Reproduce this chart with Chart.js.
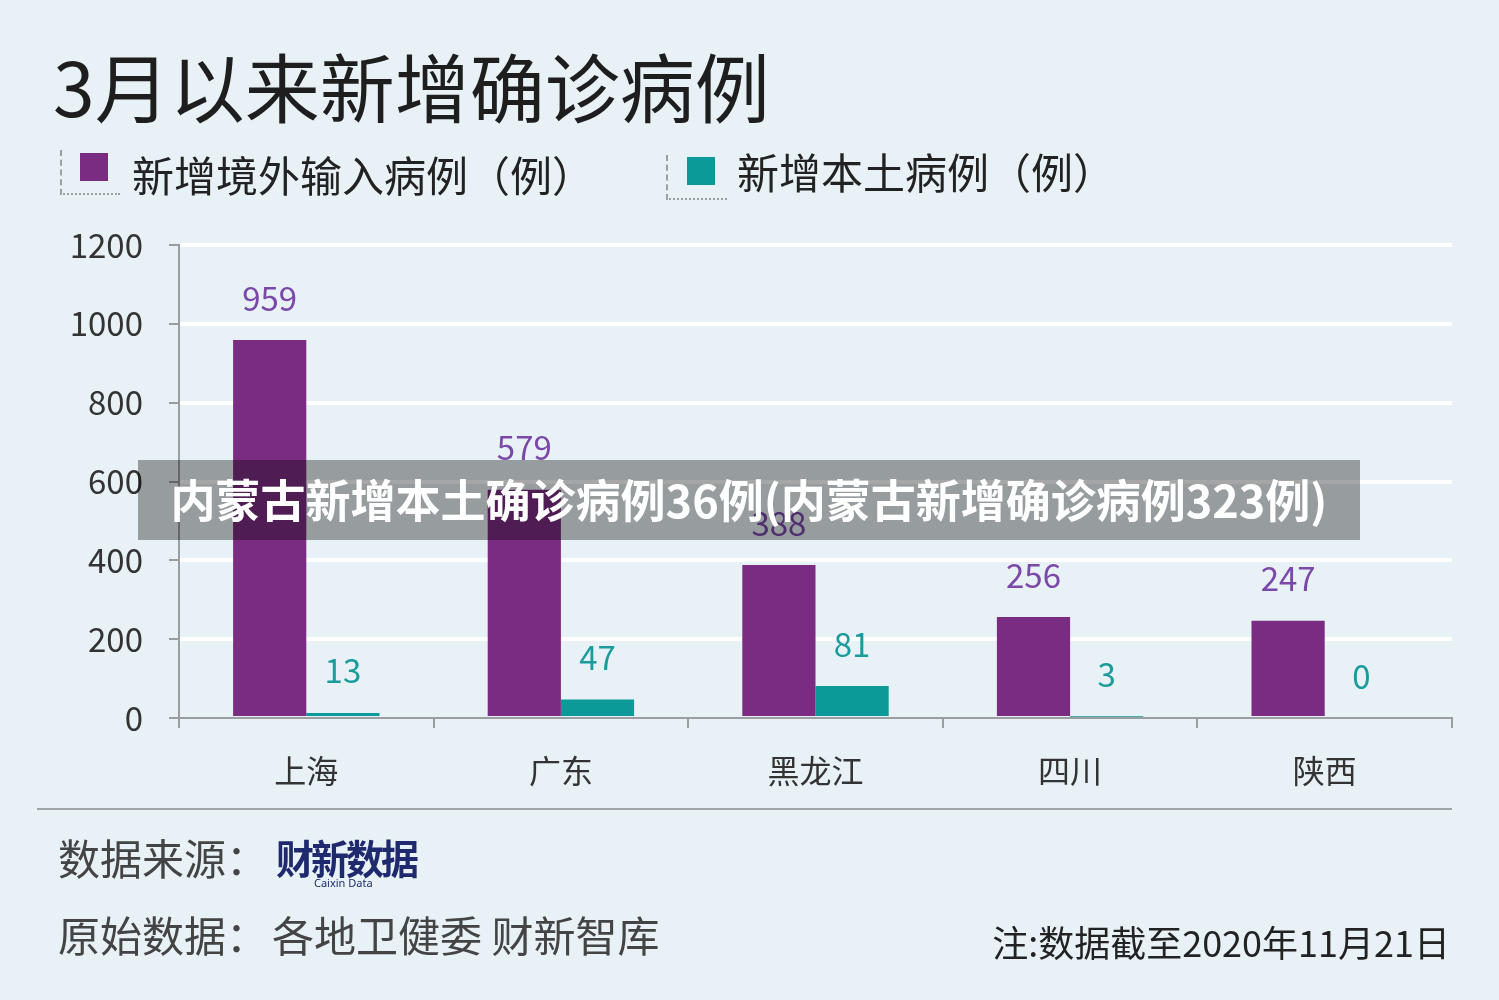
<!DOCTYPE html>
<html><head><meta charset="utf-8">
<script src="https://cdn.jsdelivr.net/npm/chart.js@4/dist/chart.umd.min.js"></script>
<style>
html,body{margin:0;padding:0;}
body{width:1499px;height:1000px;background:#e8f1f5;position:relative;overflow:hidden;font-family:"Noto Sans CJK SC","Noto Sans",sans-serif;color:#222;}
#c{position:absolute;left:0;top:0;}
.abs{position:absolute;white-space:nowrap;}
.title{left:53px;top:40px;font-size:75px;line-height:90px;color:#1e1e1e;}
.lg{font-size:42px;line-height:50px;color:#222;}
.sq{position:absolute;width:28px;height:28px;}
.dash{position:absolute;border-left:2px dashed #9aa0a4;border-bottom:2px dotted #9aa0a4;}
.sep{left:37px;top:808px;width:1415px;height:0;border-top:2px solid #a0a4a8;}
.foot{font-size:42px;line-height:50px;color:#444;}
.banner{left:138px;top:460px;width:1222px;height:80px;background:rgba(0,0,0,0.35);color:#fff;font-weight:bold;font-size:45px;line-height:78px;text-align:center;}
</style></head>
<body>
<canvas id="c" width="1499" height="1000"></canvas>
<div class="abs title">3月以来新增确诊病例</div>
<div class="dash" style="left:60px;top:150px;width:58px;height:43px;"></div>
<div class="sq" style="left:80px;top:153px;background:#7a2b82;"></div>
<div class="abs lg" style="left:132px;top:149px;">新增境外输入病例（例）</div>
<div class="dash" style="left:666px;top:155px;width:59px;height:43px;"></div>
<div class="sq" style="left:687px;top:157px;background:#0c9a98;"></div>
<div class="abs lg" style="left:737px;top:146px;">新增本土病例（例）</div>
<div class="abs sep"></div>
<div class="abs foot" style="left:58px;top:832px;">数据来源：</div>
<div class="abs" style="left:276px;top:834px;font-size:38px;font-weight:bold;color:#1f2a6e;line-height:46px;letter-spacing:-3px;transform:scaleY(1.05);">财新数据</div>
<div class="abs" style="left:314px;top:875px;font-size:11px;color:#1f2a6e;font-family:'Noto Sans',sans-serif;">Caixin Data</div>
<div class="abs foot" style="left:58px;top:909px;">原始数据：<span style="margin-left:4px">各地卫健委 财新智库</span></div>
<div class="abs" style="right:49px;top:917px;font-size:36px;line-height:48px;color:#222;">注:数据截至2020年11月21日</div>
<div class="abs banner">内蒙古新增本土确诊病例36例(内蒙古新增确诊病例323例)</div>
<script>
const categories = ["上海", "广东", "黑龙江", "四川", "陕西"];
const importedCases = [959, 579, 388, 256, 247];
const localCases = [13, 47, 81, 3, 0];
const seriesNames = ["新增境外输入病例（例）", "新增本土病例（例）"];
const yTicks = [0, 200, 400, 600, 800, 1000, 1200];

const valueLabels = {
  id: 'valueLabels',
  afterDatasetsDraw(chart) {
    const ctx = chart.ctx;
    const colors = ['#7a48a8', '#1a9c9c'];
    chart.data.datasets.forEach((ds, i) => {
      const meta = chart.getDatasetMeta(i);
      meta.data.forEach((bar, j) => {
        ctx.save();
        ctx.font = '33px "Noto Sans CJK SC", sans-serif';
        ctx.fillStyle = colors[i];
        ctx.textAlign = 'center';
        ctx.textBaseline = 'middle';
        ctx.fillText(String(ds.data[j]), bar.x, bar.y - 42);
        ctx.restore();
      });
    });
  }
};

new Chart(document.getElementById('c'), {
  type: 'bar',
  data: {
    labels: categories,
    datasets: [
      { label: seriesNames[0], data: importedCases, backgroundColor: '#7a2b82' },
      { label: seriesNames[1], data: localCases, backgroundColor: '#0c9a98' }
    ]
  },
  options: {
    responsive: false,
    animation: false,
    devicePixelRatio: 1,
    layout: { padding: { top: 245, right: 47, left: 0, bottom: 0 } },
    plugins: { legend: { display: false }, tooltip: { enabled: false } },
    datasets: { bar: { categoryPercentage: 0.575, barPercentage: 1.0 } },
    scales: {
      x: {
        afterFit(s) { s.height = 282; },
        grid: { drawOnChartArea: false, tickLength: 10, tickColor: '#9a9ea2', lineWidth: 2, offset: true },
        border: { color: '#9a9ea2', width: 2 },
        ticks: { color: '#333', padding: 24, font: { size: 32, family: '"Noto Sans CJK SC", sans-serif' } }
      },
      y: {
        min: 0, max: 1200,
        afterFit(s) { s.width = 179; },
        afterBuildTicks(s) { s.ticks = yTicks.map(v => ({ value: v })); },
        grid: {
          color: (c) => (c.tick && c.tick.value === 0) ? 'rgba(0,0,0,0)' : '#ffffff',
          lineWidth: 4, tickLength: 10, tickColor: '#9a9ea2', tickWidth: 2
        },
        border: { color: '#9a9ea2', width: 2 },
        ticks: {
          color: '#333', padding: 26,
          font: { size: 33, family: '"Noto Sans CJK SC", sans-serif' },
          callback: (v) => String(v)
        }
      }
    }
  },
  plugins: [valueLabels]
});
</script>
</body></html>
